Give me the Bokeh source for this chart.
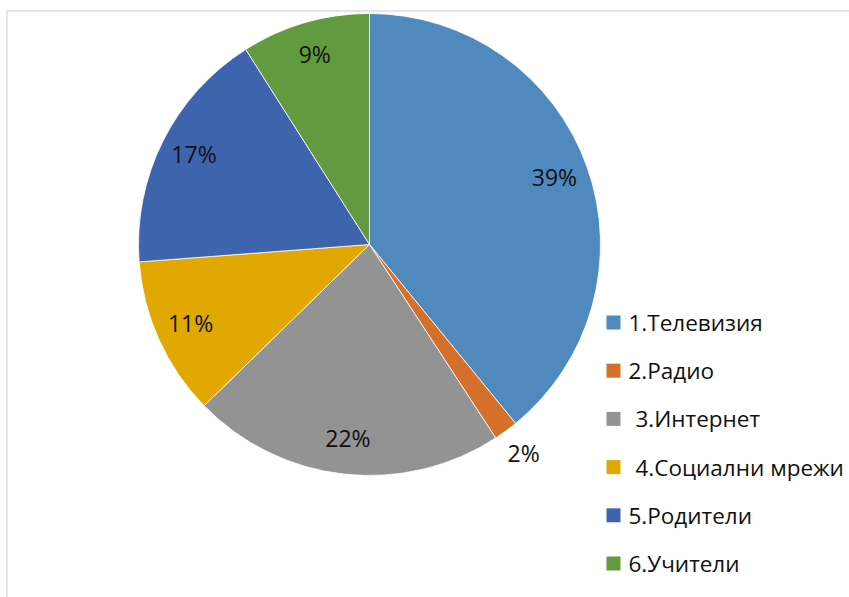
import math
from bokeh.plotting import figure
from bokeh.models import Range1d, BoxAnnotation, ColumnDataSource
from bokeh.core.properties import value
from bokeh.embed import file_html
from bokeh.resources import INLINE

# ---- data ----
categories = ["1.Телевизия", "2.Радио", " 3.Интернет", " 4.Социални мрежи", "5.Родители", "6.Учители"]
shares = [39.1, 1.7, 21.9, 11.1, 17.2, 9.0]
colors = ["#4f89bd", "#d5702b", "#939393", "#e0a800", "#3f64ae", "#629a3f"]

# ---- layout (pixels) ----
W, H = 849, 597
CX, CY = 369, H - 244
R = 231
FONT = "Open Sans"

p = figure(width=W, height=H, output_backend="svg", toolbar_location=None,
           x_range=Range1d(0, W), y_range=Range1d(0, H),
           min_border=0, min_border_left=0, min_border_right=0,
           min_border_top=0, min_border_bottom=0)
p.axis.visible = False
p.grid.visible = False
p.outline_line_color = None
p.background_fill_color = "white"
p.border_fill_color = "white"

# chart-area border (only top and left visible)
p.add_layout(BoxAnnotation(left=6.5, right=W + 50, top=H - 10.5, bottom=-50,
                           fill_alpha=0, line_color="#8e8e8e", line_width=1.5))

total = sum(shares)
starts, ends, lx, ly, labs = [], [], [], [], []
acc = 0.0
for s in shares:
    a0 = math.pi / 2 - 2 * math.pi * acc / total
    acc += s
    a1 = math.pi / 2 - 2 * math.pi * acc / total
    starts.append(a0)
    ends.append(a1)
    mid = (a0 + a1) / 2
    frac = s / total
    rl = R * 0.85 if frac > 0.04 else R * 1.13
    lx.append(CX + rl * math.cos(mid))
    ly.append(CY + rl * math.sin(mid) + 2)
    labs.append(f"{round(100 * frac)}%")

src = ColumnDataSource(dict(start=starts, end=ends, color=colors))
p.wedge(x=CX, y=CY, radius=R, start_angle="start", end_angle="end",
        direction="clock", fill_color="color", line_color="white",
        line_width=0.8, source=src)

p.text(x=lx, y=ly, text=labs, text_font=value(FONT), text_font_size="23px",
       text_align="center", text_baseline="middle", text_color="#111111")

# legend
row0 = H - 322
step = 48.2
ys = [row0 - i * step for i in range(len(categories))]
p.rect(x=[613] * len(categories), y=ys, width=14, height=14,
       width_units="screen", height_units="screen",
       fill_color=colors, line_color=None)
# leading space in a label is rendered as a small indent
txs = [628 + (7 if c.startswith(" ") else 0) for c in categories]
p.text(x=txs, y=ys, text=categories, text_font=value(FONT),
       text_font_size="22.5px", text_align="left", text_baseline="middle",
       text_color="#111111")

open("out.html", "w").write(file_html(p, INLINE))
